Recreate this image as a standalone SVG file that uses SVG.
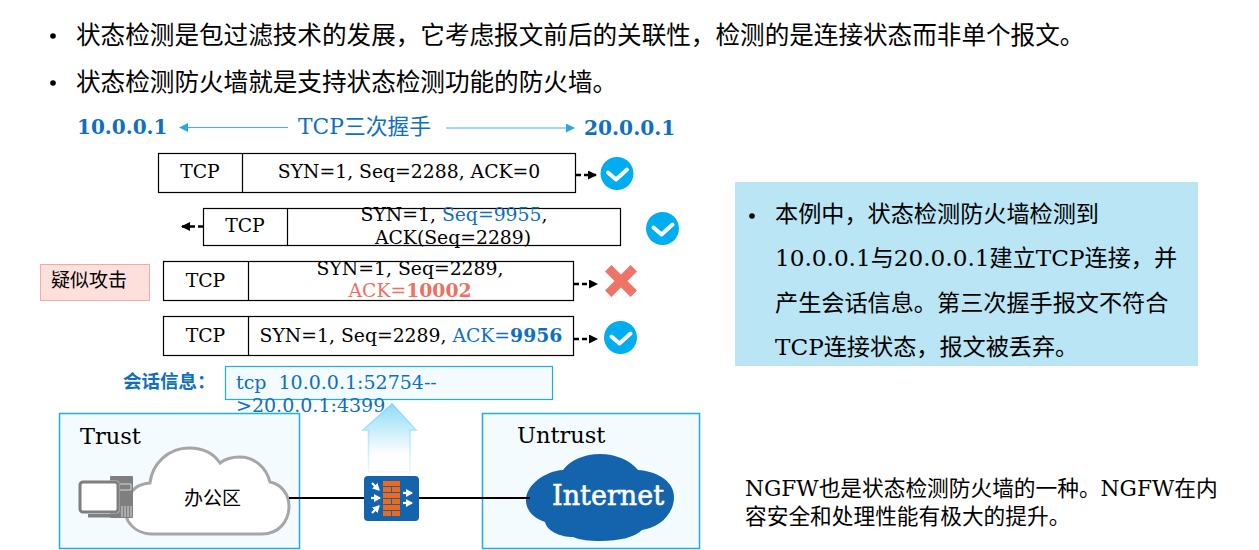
<svg xmlns="http://www.w3.org/2000/svg" width="1259" height="550" viewBox="0 0 1259 550">
<style>
text{font-family:"DejaVu Serif","Noto Sans CJK SC",serif;fill:#000;white-space:pre}
.t{font-size:24.6px}.b{font-size:18.8px;text-anchor:middle}
.blue{fill:#0f6fc0}.red{fill:#ef6f63}.bold{font-weight:bold}
.box{fill:#fff;stroke:#000;stroke-width:1.2}
.zone{fill:#f3fbff;stroke:#1eaee4;stroke-width:1.5}
.dash{stroke:#000;stroke-width:2.4;stroke-dasharray:5 3;fill:none}
.thin{stroke:#3db5e6;stroke-width:1.2;fill:none}
.link{stroke:#000;stroke-width:2;fill:none}
.tick{fill:none;stroke:#fff;stroke-width:4;stroke-linecap:round;stroke-linejoin:round}
.fwa{stroke:#fff;stroke-width:2.2;fill:none;marker-end:url(#wh)}
</style>
<defs>
<marker id="ah" markerUnits="userSpaceOnUse" markerWidth="9" markerHeight="9" refX="8" refY="4.500" orient="auto"><path d="M0 0L9 4.500L0 9z" fill="#000"/></marker>
<marker id="bh" markerUnits="userSpaceOnUse" markerWidth="9" markerHeight="9" refX="8" refY="4.500" orient="auto"><path d="M0 0L9 4.500L0 9z" fill="#2aa9e0"/></marker>
<marker id="wh" markerUnits="userSpaceOnUse" markerWidth="7" markerHeight="8" refX="6" refY="4" orient="auto"><path d="M0 0L7 4L0 8z" fill="#fff"/></marker>
<linearGradient id="up" x1="0" y1="0" x2="0" y2="1"><stop offset="0" stop-color="#8fdcf8"/><stop offset="0.75" stop-color="#fff"/></linearGradient>
<linearGradient id="upline" gradientUnits="userSpaceOnUse" x1="0" y1="404" x2="0" y2="472"><stop offset="0" stop-color="#7fd6f7"/><stop offset="1" stop-color="#eaf9ff"/></linearGradient>
<g id="ok"><circle r="16.500" fill="#00aeef"/><path class="tick" d="M-9 -1L-1 6L10-4"/></g>
</defs>
<g id="intro">
<circle cx="53" cy="36" r="2.800"/><text class="t" x="76" y="44">状态检测是包过滤技术的发展，它考虑报文前后的关联性，检测的是连接状态而非单个报文。</text>
<circle cx="53" cy="83" r="2.800"/><text class="t" x="76" y="91">状态检测防火墙就是支持状态检测功能的防火墙。</text>
</g>
<g id="handshake">
<text class="bold blue" x="77" y="134" font-size="20">10.0.0.1</text>
<text class="blue" x="298" y="134" font-size="21.800">TCP三次握手</text>
<text class="bold blue" x="584" y="135" font-size="20.200">20.0.0.1</text>
</g>
<g id="row1"><rect class="box" x="158.500" y="153.500" width="417" height="39"/><path class="box" d="M242.500 153.500V192.500"/>
<text class="b" x="200" y="178">TCP</text><text class="b" x="409" y="178">SYN=1, Seq=2288, ACK=0</text><use href="#ok" x="617" y="173.500"/></g>
<g id="row2"><rect class="box" x="203.500" y="208.500" width="417" height="37"/><path class="box" d="M287.500 208.500V245.500"/>
<text class="b" x="245" y="232">TCP</text><text class="b" x="454" y="221">SYN=1, <tspan class="blue">Seq=9955</tspan>,</text><text class="b" x="453" y="244">ACK(Seq=2289)</text><use href="#ok" x="662.500" y="228.500"/></g>
<g id="suspect"><rect x="40.500" y="264.500" width="109" height="36" fill="#fde0dc" stroke="#f7a99f"/><text x="51" y="287" font-size="19">疑似攻击</text></g>
<g id="row3"><rect class="box" x="163.500" y="261.500" width="410" height="39"/><path class="box" d="M248.500 261.500V300.500"/>
<text class="b" x="205.500" y="287">TCP</text><text class="b" x="410" y="275">SYN=1, Seq=2289,</text><text class="b red" x="410" y="297">ACK=<tspan class="bold">10002</tspan></text>
<path d="M608.200 268.200L633.800 293.800M633.800 268.200L608.200 293.800" stroke="#ee7468" stroke-width="9" fill="none"/></g>
<g id="row4"><rect class="box" x="163.500" y="316.500" width="410" height="39"/><path class="box" d="M248.500 316.500V355.500"/>
<text class="b" x="205.500" y="342">TCP</text><text class="b" x="411" y="342">SYN=1, Seq=2289, <tspan class="blue">ACK=<tspan class="bold">9956</tspan></tspan></text><use href="#ok" x="620.500" y="337.500"/></g>
<g id="trust"><rect class="zone" x="59.500" y="413.500" width="240" height="135"/><text x="80" y="444" font-size="22.500">Trust</text>
<path d="M152 534H262C279 534 289 521 289 506C289 494 281 484 270 482C266 467 254 457 240 457C232 457 225 459 220 463C214 454 203 448 189 448C168 448 152 464 150 483C140 484 133 487 129 497C124 505 124 513 128 521C133 529 142 534 152 534Z" fill="#fff" stroke="#a6a6a6" stroke-width="3"/>
<rect x="110" y="476" width="23" height="42" rx="1" fill="#7f7f7f"/><path d="M120 484H131V490H120M122 517V506M125 517V506M128 517V506M131 517V506" fill="none" stroke="#d9d9d9"/>
<rect x="78.500" y="480.500" width="41" height="33" rx="4" fill="#f3fbff"/>
<rect x="80" y="482" width="38" height="30" rx="3" fill="#fff" stroke="#7f7f7f" stroke-width="3"/><rect x="88" y="514" width="29" height="3.500" fill="#7f7f7f"/>
<text x="184" y="505" font-size="19">办公区</text></g>
<g id="arrow"><path d="M392 404L416 430H410V472H368.500V430H363Z" fill="url(#up)" stroke="url(#upline)" stroke-width="1.500"/></g>
<g id="session">
<text class="blue bold" x="123" y="388" font-size="18.500">会话信息：</text>
<rect x="225.500" y="366.500" width="327" height="33" fill="#f3fbff" stroke="#1eaee4" stroke-width="1.200"/>
<text class="blue" x="236" y="389" font-size="19">tcp  10.0.0.1:52754--</text><text class="blue" x="236" y="412" font-size="19">&gt;20.0.0.1:4399</text>
</g>
<g id="firewall"><rect x="364" y="476" width="55" height="45" rx="4" fill="#1464ad"/>
<path d="M383 481h17v5h-17zM383 487h8v5h-8zM392 487h8v5h-8zM383 493h17v5h-17zM383 499h8v5h-8zM392 499h8v5h-8zM383 505h17v5h-17zM383 511h8v5h-8zM392 511h8v5h-8z" fill="#ed6a1c"/>
<path class="fwa" d="M372 483L379 490"/><path class="fwa" d="M371 498H380"/><path class="fwa" d="M372 513L379 506"/><path class="fwa" d="M403 493H412"/><path class="fwa" d="M403 503H412"/></g>
<g id="untrust"><rect class="zone" x="482.500" y="413.500" width="217" height="135"/><text x="517" y="443" font-size="22.500">Untrust</text>
<path d="M526 500C526 485 545 471 563 470C570 460 585 454 600 454C615 454 630 460 638 470C655 471 674 480 674 497C674 515 658 528 642 530C635 537 620 541 600 541C590 541 580 540 573 537C560 537 547 531 545 522C533 518 526 510 526 500Z" fill="#1464ad"/>
<text x="552" y="505" font-size="27" style="fill:#fff;stroke:#fff;stroke-width:.6">Internet</text></g>
<g id="note"><rect x="735" y="182" width="463" height="184" fill="#b9e5f5"/>
<circle cx="752" cy="216" r="2.800"/>
<g font-size="23.150"><text x="775" y="222">本例中，状态检测防火墙检测到</text><text x="775" y="266">10.0.0.1与20.0.0.1建立TCP连接，并</text><text x="775" y="311">产生会话信息。第三次握手报文不符合</text><text x="775" y="355">TCP连接状态，报文被丢弃。</text></g></g>
<g id="ngfw" font-size="21.700"><text x="745" y="496">NGFW也是状态检测防火墙的一种。NGFW在内</text><text x="745" y="524">容安全和处理性能有极大的提升。</text></g>
<g id="connectors">
<path class="thin" d="M288 127.500H180" marker-end="url(#bh)"/>
<path class="thin" d="M446 128H574" marker-end="url(#bh)"/>
<path class="dash" d="M576 175H596" marker-end="url(#ah)"/>
<path class="dash" d="M203 226.500H182" marker-end="url(#ah)"/>
<path class="dash" d="M574 284H597" marker-end="url(#ah)"/>
<path class="dash" d="M574 339H597" marker-end="url(#ah)"/>
<path class="link" d="M289 498H364M419 498H530"/>
</g>
</svg>
